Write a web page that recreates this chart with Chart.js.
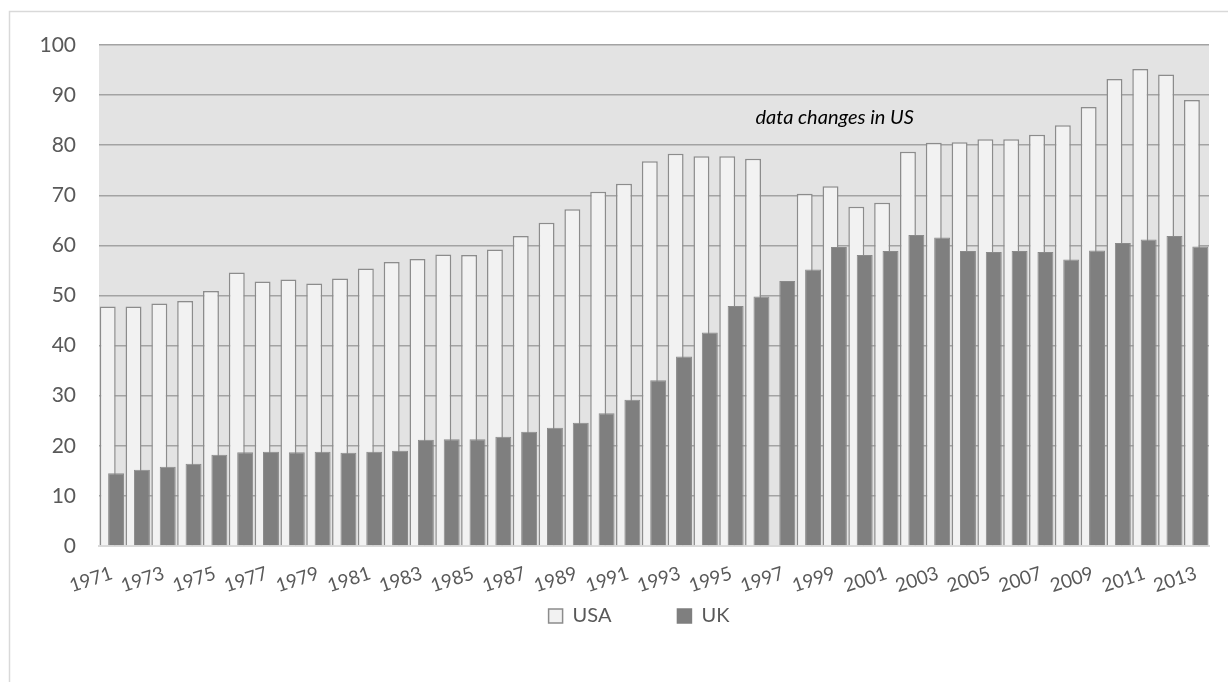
<!DOCTYPE html>
<html>
<head>
<meta charset="utf-8">
<script src="https://cdn.jsdelivr.net/npm/chart.js@4"></script>
<style>
  html, body { margin: 0; padding: 0; background: #fff; }
</style>
</head>
<body>
<canvas id="myChart" width="1228" height="682"></canvas>
<script>
// categories and series
var years = ['1971', '1972', '1973', '1974', '1975', '1976', '1977', '1978', '1979', '1980',
             '1981', '1982', '1983', '1984', '1985', '1986', '1987', '1988', '1989', '1990',
             '1991', '1992', '1993', '1994', '1995', '1996', '1997', '1998', '1999', '2000',
             '2001', '2002', '2003', '2004', '2005', '2006', '2007', '2008', '2009', '2010',
             '2011', '2012', '2013'];

var usaValues = [47.8, 47.8, 48.4, 48.9, 50.9, 54.6, 52.8, 53.2, 52.4, 53.4,
                 55.4, 56.7, 57.3, 58.2, 58.1, 59.2, 61.9, 64.5, 67.2, 70.7,
                 72.3, 76.8, 78.3, 77.8, 77.8, 77.3, null, 70.3, 71.8, 67.7,
                 68.5, 78.7, 80.5, 80.6, 81.2, 81.2, 82.1, 84.0, 87.6, 93.2,
                 95.2, 94.1, 89.0];

var ukValues = [14.5, 15.2, 15.8, 16.4, 18.2, 18.7, 18.8, 18.7, 18.8, 18.6,
                18.8, 19.0, 21.2, 21.3, 21.3, 21.8, 22.8, 23.6, 24.6, 26.5,
                29.2, 33.1, 37.8, 42.6, 47.9, 49.8, 52.9, 55.2, 59.7, 58.1,
                58.9, 62.1, 61.6, 58.9, 58.7, 58.9, 58.7, 57.2, 59.0, 60.5,
                61.2, 61.9, 59.8];

var yMin = 0, yMax = 100, yStep = 10;

// note placed over the chart
var noteText = 'data changes in US';
var noteYear = '1999';
var noteValue = 85.6;

var fontFamily = 'Lato, "Open Sans", sans-serif';
var tickColor = '#595959';

// grey plot area + thin frame round the whole chart
var plotBackground = {
    id: 'plotBackground',
    beforeDraw: function(chart) {
        var ctx = chart.ctx, a = chart.chartArea;
        ctx.save();
        ctx.fillStyle = '#e3e3e3';
        ctx.fillRect(a.left, a.top, a.right - a.left, a.bottom - a.top);
        ctx.strokeStyle = '#d9d9d9';
        ctx.lineWidth = 1.5;
        ctx.beginPath();
        ctx.moveTo(9.5, 700);
        ctx.lineTo(9.5, 11.5);
        ctx.lineTo(1240, 11.5);
        ctx.stroke();
        ctx.restore();
    }
};

// USA bars go first, so the UK bars sit in front of them
var ukInFront = {
    id: 'ukInFront',
    beforeDatasetsDraw: function(chart) {
        chart.getDatasetMeta(0).controller.draw();
    },
    beforeDatasetDraw: function(chart, args) {
        if (args.index === 0) return false;
    }
};

var noteLabel = {
    id: 'noteLabel',
    afterDatasetsDraw: function(chart) {
        var ctx = chart.ctx;
        var x = chart.scales.x.getPixelForValue(years.indexOf(noteYear));
        var y = chart.scales.y.getPixelForValue(noteValue);
        ctx.save();
        ctx.font = 'italic 20px ' + fontFamily;
        ctx.fillStyle = '#000';
        ctx.textAlign = 'center';
        ctx.textBaseline = 'middle';
        ctx.fillText(noteText, x, y);
        ctx.restore();
    }
};

var element = document.getElementById('myChart').getContext('2d');

var chartData = {
    labels: years,
    datasets: [{
        label: 'USA',
        data: usaValues,
        backgroundColor: '#f2f2f2',
        borderColor: '#8c8c8c',
        borderWidth: 1.5
    }, {
        label: 'UK',
        data: ukValues,
        backgroundColor: '#7f7f7f',
        borderColor: '#8a8a8a',
        borderWidth: 1
    }]
};

var chartOptions = {
    responsive: false,
    animation: false,
    categoryPercentage: 0.65,
    barPercentage: 1.9,
    layout: { padding: { left: 10, right: 19, top: 45, bottom: 46 } },
    plugins: {
        legend: {
            position: 'bottom',
            fullSize: false,
            labels: {
                boxWidth: 14,
                boxHeight: 14,
                padding: 11,
                color: tickColor,
                font: { family: fontFamily, size: 20 },
                generateLabels: function(chart) {
                    return chart.data.datasets.map(function(ds, i) {
                        return {
                            // trailing spaces only widen the gaps so the row sits as in the original
                            text: ds.label + (i === 0 ? '\u2003\u2003\u2003\u2002' : '\u2003\u2003'),
                            fillStyle: ds.backgroundColor,
                            strokeStyle: i === 0 ? '#8c8c8c' : ds.backgroundColor,
                            lineWidth: 1.5,
                            fontColor: tickColor,
                            datasetIndex: i
                        };
                    });
                }
            }
        },
        tooltip: { enabled: false }
    },
    scales: {
        x: {
            grid: { display: false },
            border: { color: '#d9d9d9', width: 2 },
            ticks: {
                autoSkip: false,
                minRotation: 18,
                maxRotation: 18,
                padding: 8,
                color: tickColor,
                font: { family: fontFamily, size: 19 },
                callback: function(value, index) {
                    return index % 2 === 0 ? years[index] : '';
                }
            },
            afterFit: function(scale) { scale.height = 49; }
        },
        y: {
            min: yMin,
            max: yMax,
            grid: { color: '#a3a3a3', lineWidth: 1.5, drawTicks: false },
            border: { display: false },
            ticks: {
                stepSize: yStep,
                padding: 23,
                color: tickColor,
                font: { family: fontFamily, size: 21 }
            },
            afterFit: function(scale) { scale.width = 89; }
        }
    }
};

var chart = new Chart(element, {
    type: 'bar',
    data: chartData,
    options: chartOptions,
    plugins: [plotBackground, ukInFront, noteLabel]
});
</script>
</body>
</html>
